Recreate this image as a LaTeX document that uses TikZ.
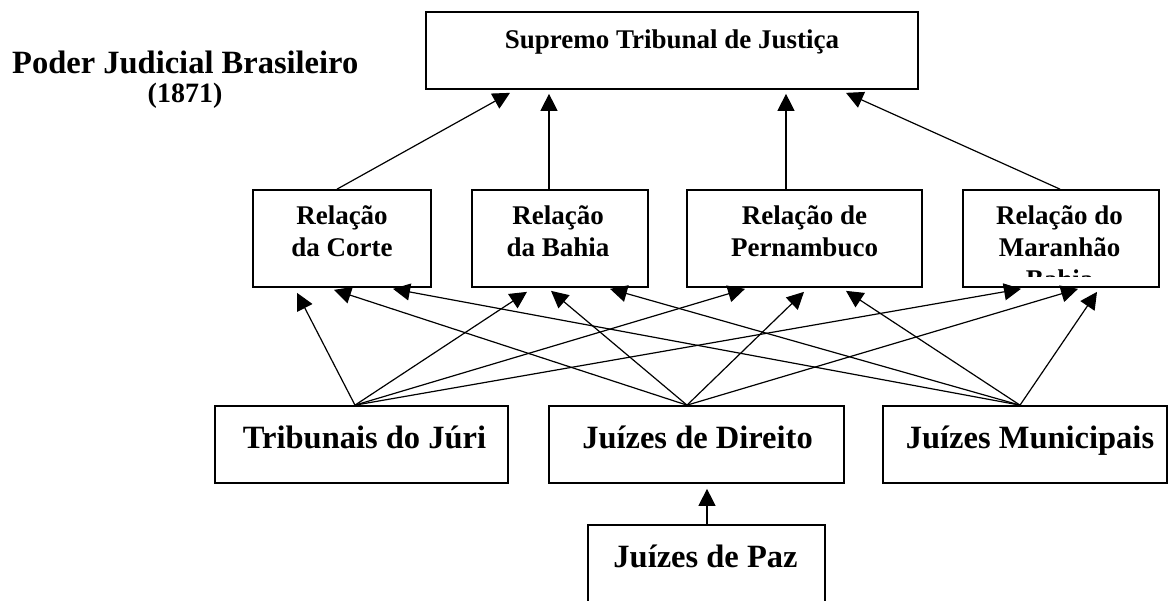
\documentclass[tikz,border=0pt]{standalone}
\usepackage{fontspec}
\setmainfont{Liberation Serif}
\usetikzlibrary{arrows.meta,calc}
\newcommand{\twoline}[2]{\begin{tabular}[t]{@{}c@{}}#1\\#2\end{tabular}}
\newcommand{\threeline}[3]{\begin{tabular}[t]{@{}c@{}}#1\\#2\\#3\end{tabular}}
\begin{document}
\begin{tikzpicture}[x=1pt,y=-1pt,
  box/.style={draw=black,line width=1.7pt,rectangle,inner sep=0pt},
  lbl/.style={inner sep=0pt,anchor=base},
  titlefont/.style={font=\bfseries\fontsize{32.5}{38}\selectfont},
  yearfont/.style={font=\bfseries\fontsize{28}{34}\selectfont},
  topfont/.style={font=\bfseries\fontsize{27}{32}\selectfont},
  relfont/.style={font=\bfseries\fontsize{27}{32}\selectfont},
  lowfont/.style={font=\bfseries\fontsize{32.5}{39}\selectfont},
  arr/.style={line width=1.2pt,-{Triangle[length=17pt,width=17pt]}},
]
\useasboundingbox (0,0) rectangle (1174,600);
\fill[white] (0,0) rectangle (1174,600);

% title
\node[lbl,anchor=base west,titlefont] (title) at (12,73) {Poder Judicial Brasileiro};
\node[lbl,yearfont] (year) at (185,102) {(1871)};

% boxes
\node[box,minimum width=492pt,minimum height=77pt] (sup) at (672,50.5) {};
\node[box,minimum width=178pt,minimum height=97pt] (corte) at (342,238.5) {};
\node[box,minimum width=176pt,minimum height=97pt] (bahia) at (560,238.5) {};
\node[box,minimum width=235pt,minimum height=97pt] (pern) at (804.5,238.5) {};
\node[box,minimum width=196pt,minimum height=97pt] (mar) at (1061,238.5) {};
\node[box,minimum width=293pt,minimum height=77pt] (jur) at (361.5,444.5) {};
\node[box,minimum width=295pt,minimum height=77pt] (dir) at (696.5,444.5) {};
\node[box,minimum width=284pt,minimum height=77pt] (mun) at (1025,444.5) {};
\node[box,minimum width=237pt,minimum height=85pt] (paz) at (706.5,567.5) {};

% texts
\node[lbl,topfont] (supt) at (672,48) {Supremo Tribunal de Justiça};
\node[lbl,relfont] (cortet) at (342,224) {\twoline{Relação}{da Corte}};
\node[lbl,relfont] (bahiat) at (558,224) {\twoline{Relação}{da Bahia}};
\node[lbl,relfont] (pernt) at (804.5,224) {\twoline{Relação de}{Pernambuco}};
\begin{scope}
  \clip (963,190) rectangle (1159,276);
  \node[lbl,relfont] (mart) at (1059.5,224) {\threeline{Relação do}{Maranhão}{Bahia}};
\end{scope}
\node[lbl,lowfont] (jurt) at (364.5,448) {Tribunais do Júri};
\node[lbl,lowfont] (dirt) at (697.5,448) {Juízes de Direito};
\node[lbl,lowfont] (munt) at (1030,448) {Juízes Municipais};
\node[lbl,lowfont] (pazt) at (705.5,567) {Juízes de Paz};

% arrows to Supremo
\draw[arr] ($(corte.north)+(-5,0)$) -- ($(sup.south)+(-162,3)$);
\draw[arr] ($(bahia.north)+(-11,0)$) -- ($(sup.south)+(-123,4)$);
\draw[arr] ($(pern.north)+(-18.5,0)$) -- ($(sup.south)+(114,4)$);
\draw[arr] ($(mar.north)+(-1,0)$) -- ($(sup.south)+(174,3)$);

% from Tribunais do Juri
\draw[arr] ($(jur.north)+(-6.5,0)$) -- ($(corte.south)+(-45,5)$);
\draw[arr] ($(jur.north)+(-6.5,0)$) -- ($(bahia.south)+(-33,4)$);
\draw[arr] ($(jur.north)+(-6.5,0)$) -- ($(pern.south)+(-59.5,1)$);
\draw[arr] ($(jur.north)+(-6.5,0)$) -- ($(mar.south)+(-40,1)$);

% from Juizes de Direito
\draw[arr] ($(dir.north)+(-9.5,0)$) -- ($(corte.south)+(-8,2)$);
\draw[arr] ($(dir.north)+(-9.5,0)$) -- ($(bahia.south)+(-9,3)$);
\draw[arr] ($(dir.north)+(-9.5,0)$) -- ($(pern.south)+(-0.5,4)$);
\draw[arr] ($(dir.north)+(-9.5,0)$) -- ($(mar.south)+(17,1)$);

% from Juizes Municipais
\draw[arr] ($(mun.north)+(-5,0)$) -- ($(corte.south)+(51,1)$);
\draw[arr] ($(mun.north)+(-5,0)$) -- ($(bahia.south)+(50,1)$);
\draw[arr] ($(mun.north)+(-5,0)$) -- ($(pern.south)+(41.5,3)$);
\draw[arr] ($(mun.north)+(-5,0)$) -- ($(mar.south)+(36,4)$);

% Paz to Direito
\draw[arr] ($(paz.north)+(0.5,0)$) -- ($(dir.south)+(10.5,5)$);
\end{tikzpicture}
\end{document}
